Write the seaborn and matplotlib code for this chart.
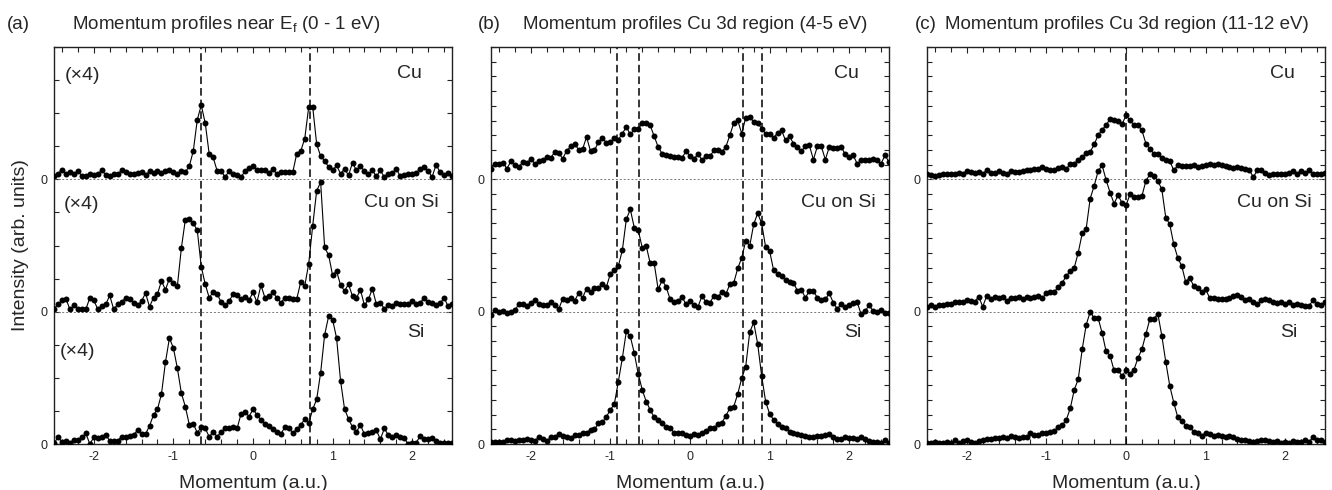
import numpy as np
import matplotlib
matplotlib.use('Agg')
import matplotlib.pyplot as plt
from matplotlib.ticker import MultipleLocator
import seaborn as sns

sns.set_style('ticks')
plt.rcParams['font.family'] = ['Liberation Sans', 'DejaVu Sans']
plt.rcParams['mathtext.fontset'] = 'custom'
plt.rcParams['mathtext.rm'] = 'Liberation Sans'
plt.rcParams['mathtext.it'] = 'Liberation Sans:italic'

# momentum grid (a.u.), 0.05 steps
momentum = np.round(np.arange(101) * 0.05 - 2.5, 2)

# (a) near E_f, values in tick units (4 per stripe)
a_cu = [0.09, 0.17, 0.29, 0.15, 0.22, 0.17, 0.25, 0.10, 0.10, 0.15,
        0.12, 0.15, 0.29, 0.12, 0.10, 0.17, 0.15, 0.27, 0.22, 0.15,
        0.17, 0.20, 0.22, 0.12, 0.25, 0.19, 0.24, 0.20, 0.25, 0.27,
        0.22, 0.17, 0.25, 0.22, 0.40, 0.86, 1.80, 2.24, 1.70, 0.76,
        0.66, 0.25, 0.25, 0.07, 0.25, 0.17, 0.12, 0.07, 0.25, 0.35,
        0.41, 0.29, 0.27, 0.27, 0.19, 0.32, 0.15, 0.22, 0.22, 0.22,
        0.22, 0.78, 0.86, 1.23, 2.19, 2.19, 1.06, 0.70, 0.56, 0.37,
        0.27, 0.42, 0.17, 0.32, 0.12, 0.50, 0.27, 0.40, 0.25, 0.15,
        0.27, 0.09, 0.27, 0.07, 0.15, 0.19, 0.32, 0.09, 0.12, 0.17,
        0.15, 0.20, 0.32, 0.37, 0.25, 0.07, 0.44, 0.22, 0.12, 0.19,
        0.10]
a_cusi = [0.09, 0.22, 0.35, 0.39, 0.07, 0.19, 0.07, 0.09, 0.07, 0.42,
          0.35, 0.07, 0.17, 0.22, 0.49, 0.07, 0.22, 0.29, 0.42, 0.37,
          0.27, 0.19, 0.32, 0.56, 0.15, 0.42, 0.53, 0.93, 0.66, 1.00,
          0.88, 0.78, 1.92, 2.78, 2.80, 2.67, 2.46, 1.36, 0.83, 0.42,
          0.60, 0.53, 0.29, 0.19, 0.32, 0.53, 0.49, 0.37, 0.44, 0.35,
          0.58, 0.29, 0.80, 0.42, 0.47, 0.58, 0.42, 0.27, 0.42, 0.42,
          0.37, 0.39, 0.90, 0.78, 1.45, 2.60, 3.66, 3.91, 1.94, 1.71,
          1.10, 1.23, 0.80, 0.63, 0.83, 0.47, 0.42, 0.66, 0.19, 0.37,
          0.70, 0.22, 0.27, 0.09, 0.19, 0.17, 0.27, 0.22, 0.22, 0.24,
          0.32, 0.22, 0.27, 0.42, 0.29, 0.27, 0.19, 0.25, 0.42, 0.17,
          0.22]
a_si = [0.02, 0.20, 0.07, 0.10, 0.04, 0.12, 0.12, 0.20, 0.32, 0.00,
        0.20, 0.17, 0.20, 0.27, 0.10, 0.10, 0.10, 0.22, 0.22, 0.24,
        0.27, 0.42, 0.30, 0.30, 0.55, 0.88, 1.05, 1.51, 2.47, 3.20,
        2.90, 2.29, 1.54, 1.13, 0.58, 0.61, 0.34, 0.51, 0.47, 0.22,
        0.37, 0.22, 0.37, 0.47, 0.49, 0.51, 0.47, 0.91, 0.98, 0.83,
        1.05, 0.88, 0.73, 0.61, 0.53, 0.44, 0.37, 0.30, 0.51, 0.47,
        0.34, 0.44, 0.58, 0.75, 0.63, 1.05, 1.35, 2.16, 3.30, 3.86,
        3.76, 3.20, 1.91, 1.06, 0.76, 0.51, 0.37, 0.58, 0.29, 0.34,
        0.35, 0.42, 0.14, 0.47, 0.27, 0.22, 0.27, 0.22, 0.17, 0.00,
        0.02, 0.04, 0.24, 0.14, 0.14, 0.17, 0.10, 0.04, 0.02, 0.04,
        0.02]

# (b) Cu 3d region 4-5 eV, tick units (9 per stripe)
b_cu = [0.73, 1.07, 1.07, 1.13, 0.73, 1.22, 0.95, 0.84, 1.18, 1.13,
        1.36, 1.07, 1.22, 1.29, 1.52, 1.45, 1.86, 1.79, 1.41, 1.93,
        2.24, 2.43, 2.02, 2.04, 2.88, 1.93, 1.97, 2.54, 2.83, 2.47,
        2.54, 2.83, 2.70, 3.11, 3.56, 3.06, 3.40, 3.40, 3.83, 3.83,
        3.67, 2.93, 2.20, 1.75, 1.63, 1.56, 1.52, 1.52, 1.47, 1.90,
        1.59, 1.41, 1.70, 1.34, 1.56, 1.56, 1.97, 2.02, 1.86, 2.20,
        2.99, 3.83, 4.01, 3.11, 4.20, 4.24, 3.90, 3.83, 3.45, 3.11,
        3.06, 2.81, 3.17, 3.33, 2.65, 2.93, 2.43, 2.20, 1.93, 2.24,
        2.31, 1.34, 2.24, 2.24, 1.34, 2.20, 2.15, 2.15, 2.20, 1.70,
        1.52, 1.63, 1.07, 1.29, 1.29, 1.34, 1.41, 1.34, 1.07, 1.63,
        1.18]
b_cusi = [-0.23, 0.11, -0.02, 0.05, -0.07, -0.02, 0.11, 0.50, 0.50, 0.39,
          0.61, 0.77, 0.50, 0.43, 0.43, 0.68, 0.43, 0.16, 0.88, 0.77,
          0.95, 0.73, 1.25, 0.95, 1.56, 1.34, 1.63, 1.63, 1.90, 1.68,
          2.59, 2.83, 3.11, 4.17, 6.28, 6.96, 5.71, 5.53, 4.35, 4.47,
          3.29, 3.29, 1.52, 2.13, 1.70, 0.84, 0.68, 0.73, 1.00, 0.50,
          0.73, 0.43, 0.32, 1.07, 0.66, 0.61, 1.07, 1.00, 1.34, 1.18,
          1.86, 1.97, 2.95, 3.67, 4.81, 4.47, 5.94, 6.69, 6.01, 4.40,
          4.13, 2.83, 2.54, 2.43, 2.13, 2.02, 1.97, 1.41, 1.47, 0.95,
          1.41, 1.41, 0.95, 0.77, 0.84, 1.25, 0.61, 0.20, 0.50, 0.32,
          0.43, 0.61, 0.66, -0.18, 0.05, 0.43, 0.05, -0.02, 0.11, -0.07,
          -0.07]
b_si = [0.16, 0.16, 0.16, 0.16, 0.27, 0.27, 0.23, 0.27, 0.27, 0.32,
        0.27, 0.23, 0.45, 0.32, 0.23, 0.45, 0.45, 0.68, 0.55, 0.50,
        0.39, 0.61, 0.61, 0.73, 0.77, 0.95, 1.00, 1.41, 1.48, 1.86,
        2.32, 2.73, 4.25, 5.84, 7.66, 7.32, 6.18, 4.77, 3.68, 2.89,
        2.32, 1.82, 1.64, 1.41, 1.18, 1.11, 0.77, 0.77, 0.77, 0.61,
        0.55, 0.68, 0.61, 0.77, 0.91, 1.07, 1.07, 1.36, 1.45, 1.91,
        2.43, 2.55, 3.41, 4.48, 5.27, 7.59, 8.27, 6.82, 4.64, 2.89,
        2.05, 1.64, 1.36, 1.18, 1.07, 0.84, 0.77, 0.68, 0.61, 0.55,
        0.50, 0.50, 0.55, 0.55, 0.61, 0.66, 0.45, 0.32, 0.32, 0.45,
        0.39, 0.39, 0.32, 0.45, 0.32, 0.23, 0.16, 0.16, 0.09, 0.27,
        0.09]

# (c) Cu 3d region 11-12 eV, tick units (9 per stripe)
c_cu = [0.34, 0.27, 0.20, 0.27, 0.39, 0.39, 0.34, 0.39, 0.43, 0.34,
        0.57, 0.50, 0.43, 0.50, 0.39, 0.61, 0.43, 0.43, 0.57, 0.43,
        0.34, 0.57, 0.50, 0.50, 0.57, 0.61, 0.66, 0.73, 0.73, 0.84,
        0.73, 0.61, 0.66, 0.79, 0.84, 0.73, 1.02, 1.07, 1.34, 1.52,
        1.79, 1.86, 2.38, 2.99, 3.38, 3.67, 4.13, 4.01, 3.97, 3.74,
        4.35, 4.01, 3.67, 3.67, 3.33, 2.43, 2.09, 1.75, 1.70, 1.47,
        1.29, 1.25, 0.61, 0.95, 0.91, 0.91, 0.91, 0.95, 0.84, 0.91,
        0.95, 1.07, 0.95, 1.02, 0.95, 0.88, 0.84, 0.79, 0.84, 0.79,
        0.73, 0.61, 0.16, 0.61, 0.61, 0.43, 0.27, 0.34, 0.34, 0.39,
        0.39, 0.43, 0.57, 0.39, 0.57, 0.43, 0.61, 0.39, 0.34, 0.39,
        0.43]
c_cusi = [0.34, 0.43, 0.34, 0.43, 0.45, 0.50, 0.50, 0.66, 0.68, 0.66,
          0.77, 0.70, 0.68, 1.02, 0.34, 1.07, 0.84, 1.02, 0.95, 1.00,
          0.73, 0.95, 0.95, 1.02, 0.88, 1.02, 0.95, 1.02, 1.07, 0.95,
          1.25, 1.34, 1.34, 1.70, 1.97, 2.43, 2.77, 2.99, 4.01, 5.33,
          5.65, 7.69, 8.55, 9.57, 9.95, 8.96, 8.10, 7.35, 7.91, 7.41,
          7.23, 7.98, 7.82, 7.82, 7.87, 8.89, 9.34, 9.23, 8.89, 8.32,
          6.39, 5.94, 4.58, 3.67, 3.11, 2.02, 2.31, 1.75, 1.63, 1.36,
          1.52, 0.95, 0.91, 0.88, 0.88, 0.88, 0.95, 1.07, 1.11, 1.00,
          0.77, 0.88, 0.66, 0.50, 0.79, 0.88, 0.77, 0.66, 0.61, 0.68,
          0.50, 0.66, 0.45, 0.50, 0.43, 0.39, 0.39, 0.79, 0.50, 0.43,
          0.66]
c_si = [0.09, 0.09, 0.16, 0.09, 0.09, 0.16, 0.09, 0.27, 0.09, 0.23,
        0.27, 0.16, 0.09, 0.23, 0.27, 0.32, 0.32, 0.39, 0.39, 0.50,
        0.43, 0.55, 0.50, 0.39, 0.45, 0.50, 0.77, 0.61, 0.61, 0.73,
        0.77, 0.84, 0.91, 1.18, 1.30, 1.64, 2.43, 3.68, 4.41, 6.45,
        8.11, 8.98, 8.57, 8.57, 7.55, 6.30, 6.00, 5.00, 5.00, 4.64,
        5.00, 4.77, 5.05, 5.84, 6.45, 7.48, 8.50, 8.50, 8.86, 7.36,
        5.57, 3.95, 2.82, 1.82, 1.59, 1.23, 1.14, 0.84, 0.77, 0.55,
        0.77, 0.68, 0.55, 0.61, 0.55, 0.50, 0.55, 0.45, 0.32, 0.27,
        0.27, 0.23, 0.16, 0.23, 0.27, 0.27, 0.23, 0.16, 0.23, 0.09,
        0.16, 0.09, 0.23, 0.16, 0.16, 0.27, 0.16, 0.45, 0.27, 0.27,
        0.16]

samples = ['Cu', 'Cu on Si', 'Si']
titles = [r'Momentum profiles near E$_\mathrm{f}$ (0 - 1 eV)',
          'Momentum profiles Cu 3d region (4-5 eV)',
          'Momentum profiles Cu 3d region (11-12 eV)']
tags = ['(a)', '(b)', '(c)']
dashed = [[-0.65, 0.71], [-0.92, -0.645, 0.66, 0.905], [0.0]]
stripe = [4, 9, 9]
curves = [[a_cu, a_cusi, a_si], [b_cu, b_cusi, b_si], [c_cu, c_cusi, c_si]]

W, H = 1332, 490
fig = plt.figure(figsize=(W / 100, H / 100), dpi=100)

ax_left = [54, 491, 927]
tag_x = [7, 478, 915]
title_x = [72, 523, 945]
ax_w = 398
ax_top, ax_bot = 47, 444

for i_p in range(3):
    ax = fig.add_axes([ax_left[i_p] / W, 1 - ax_bot / H,
                       ax_w / W, (ax_bot - ax_top) / H])
    h = stripe[i_p]

    for x in dashed[i_p]:
        ax.axvline(x, color='black', lw=1.1, ls=(0, (5, 2.6)), zorder=1)
    for k in (1, 2):
        ax.axhline(k * h, color='#777777', lw=0.7, ls=(0, (2, 2)), zorder=1)

    for i_s, vals in enumerate(curves[i_p]):
        offset = (2 - i_s) * h
        sns.lineplot(x=momentum, y=np.array(vals) + offset, ax=ax,
                     color='black', lw=0.8, marker='o', markersize=4.3,
                     markeredgewidth=0, estimator=None, sort=False,
                     zorder=3)

    # sample names
    name_x = [1.97, 1.87, 2.05]
    name_dy = [26, 23, 21]
    px_per_unit = (ax_bot - ax_top) / (3 * h)
    for i_s, name in enumerate(samples):
        top = (3 - i_s) * h
        ax.text(name_x[i_s], top - name_dy[i_s] / px_per_unit, name,
                ha='center', va='center', fontsize=14)
    if i_p == 0:
        for i_s, yy in enumerate([11.15, 7.24, 2.79]):
            ax.text([-2.14, -2.15, -2.2][i_s], yy, '(\u00d74)',
                    ha='center', va='center', fontsize=14)

    ax.set_xlim(-2.5, 2.5)
    ax.set_ylim(0, 3 * h)
    ax.set_xticks([-2, -1, 0, 1, 2])
    ax.set_xticklabels(['-2', '-1', '0', '1', '2'])
    ax.xaxis.set_minor_locator(MultipleLocator(0.2))
    ax.set_yticks([0, h, 2 * h])
    ax.set_yticklabels(['0', '0', '0'])
    ax.yaxis.set_minor_locator(MultipleLocator(1))
    ax.tick_params(which='both', direction='in', top=True, right=True,
                   width=0.8, color='#222222', labelsize=9)
    ax.tick_params(which='major', length=4.5, pad=5)
    ax.tick_params(which='minor', length=3.5)
    for sp in ax.spines.values():
        sp.set_linewidth(1.0)
        sp.set_color('#222222')
    ax.set_xlabel('Momentum (a.u.)', fontsize=14, labelpad=9)
    ax.set_ylabel('')

    fig.text(tag_x[i_p] / W, 1 - 29 / H, tags[i_p], fontsize=13.5,
             ha='left', va='baseline')
    fig.text(title_x[i_p] / W, 1 - 29 / H, titles[i_p], fontsize=13.5,
             ha='left', va='baseline')

fig.text(21 / W, 1 - (ax_top + ax_bot) / 2 / H, 'Intensity (arb. units)',
         rotation=90, ha='center', va='center', fontsize=14)

fig.savefig('out.png', dpi=100)
